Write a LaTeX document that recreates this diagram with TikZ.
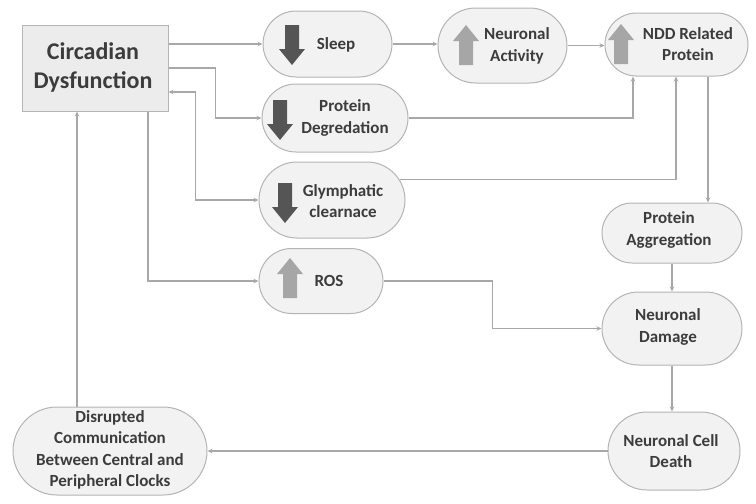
\documentclass[tikz,border=0pt]{standalone}
\usepackage{fontspec}
\setmainfont{Carlito}
\usetikzlibrary{shapes.misc,arrows.meta}
\definecolor{nodef}{HTML}{F2F2F2}
\definecolor{boxf}{HTML}{ECECEC}
\definecolor{bordc}{HTML}{B4B4B4}
\definecolor{linec}{HTML}{A8A8A8}
\definecolor{txtc}{HTML}{3C3C3C}
\definecolor{darkarr}{HTML}{555555}
\definecolor{lightarr}{HTML}{A6A6A6}
\tikzset{
  dnpic/.pic={\fill[darkarr] (-7,-20) -- (7,-20) -- (7,4) -- (13,4) -- (0,20) -- (-13,4) -- (-7,4) -- cycle;},
  uppic/.pic={\fill[lightarr] (-7,20) -- (7,20) -- (7,-4) -- (13,-4) -- (0,-20) -- (-13,-4) -- (-7,-4) -- cycle;}
}
\begin{document}
\begin{tikzpicture}[x=1pt,y=-1pt,
  stad/.style={rounded rectangle, draw=bordc, fill=nodef, line width=1pt, inner sep=0pt},
  lbl/.style={font=\bfseries\fontsize{17}{21.5}\selectfont, text=txtc, align=center, inner sep=0pt},
  conn/.style={draw=linec, line width=1.1pt, -{Stealth[length=5pt,width=4.5pt]}}]
\useasboundingbox (0,0) rectangle (756,504);

% main box
\node[draw=bordc, fill=boxf, line width=1pt, minimum width=146pt, minimum height=86pt, inner sep=0pt] (circ) at (95,68) {};
\node[lbl, font=\bfseries\fontsize{24}{29}\selectfont] (circT) at (93,67) {Circadian\\Dysfunction};

% rounded nodes
\node[stad, minimum width=129pt, minimum height=66pt] (sleep) at (327.5,44) {};
\node[stad, minimum width=146pt, minimum height=68pt] (pdeg) at (335,118) {};
\node[stad, minimum width=146pt, minimum height=76pt] (glym) at (332,200) {};
\node[stad, minimum width=124pt, minimum height=65pt] (ros) at (321,281) {};
\node[stad, minimum width=129pt, minimum height=75pt] (nact) at (502.5,45.5) {};
\node[stad, minimum width=143pt, minimum height=63pt] (ndd) at (676.5,44.5) {};
\node[stad, minimum width=140pt, minimum height=60pt] (pagg) at (672,233) {};
\node[stad, minimum width=140pt, minimum height=73pt] (ndam) at (672,328.5) {};
\node[stad, minimum width=132pt, minimum height=78pt] (ncd) at (674,451) {};
\node[stad, minimum width=194pt, minimum height=88pt] (disr) at (110,451) {};

% icons
\pic at (292,45) {dnpic};
\pic at (280,120) {dnpic};
\pic at (285,203) {dnpic};
\pic at (466,45) {uppic};
\pic at (621,44) {uppic};
\pic at (290,278) {uppic};

% labels
\node[lbl] (sleepT) at (336,45) {Sleep};
\node[lbl] (pdegT) at (345,118) {Protein\\Degredation};
\node[lbl] (glymT) at (343,201) {Glymphatic\\clearnace};
\node[lbl] (rosT) at (329,281) {ROS};
\node[lbl] (nactT) at (517,46) {Neuronal\\Activity};
\node[lbl] (nddT) at (688,44) {NDD Related\\Protein};
\node[lbl] (paggT) at (669,230) {Protein\\Aggregation};
\node[lbl] (ndamT) at (668,327) {Neuronal\\Damage};
\node[lbl] (ncdT) at (671,451) {Neuronal Cell\\Death};
\node[lbl] (disrT) at (110,450) {Disrupted\\Communication\\Between Central and\\Peripheral Clocks};

% connectors
\draw[conn] ([yshift=24pt]circ.east) -- (sleep.west);
\draw[conn] (circ.east) -- ++(47,0) |- (pdeg.west);
\draw[conn, {Stealth[length=5pt,width=4.5pt]}-{Stealth[length=5pt,width=4.5pt]}] ([yshift=-24pt]circ.east) -- ++(27,0) |- (glym.west);
\draw[conn] ([xshift=53pt]circ.south) |- (ros.west);
\coordinate (cb) at ([xshift=-18pt]circ.south);
\draw[conn] (cb |- disr.north) -- (cb);
\draw[conn] (sleep.east) -- (sleep.east -| nact.west);
\draw[conn] (nact.east) -- (nact.east -| ndd.west);
\draw[conn] (pdeg.east) -| ([xshift=-43.5pt]ndd.south);
\draw[conn] (glym.17) -| ([xshift=-0.5pt]ndd.south);
\coordinate (nr) at ([xshift=31.5pt]ndd.south);
\draw[conn] (nr) -- (nr |- pagg.north);
\draw[conn] (pagg.south) -- (ndam.north);
\draw[conn] (ros.east) -- ++(109,0) |- (ndam.west);
\draw[conn] (ndam.south) -- (ndam.south |- ncd.north);
\draw[conn] (ncd.west) -- (disr.east);
\end{tikzpicture}
\end{document}
